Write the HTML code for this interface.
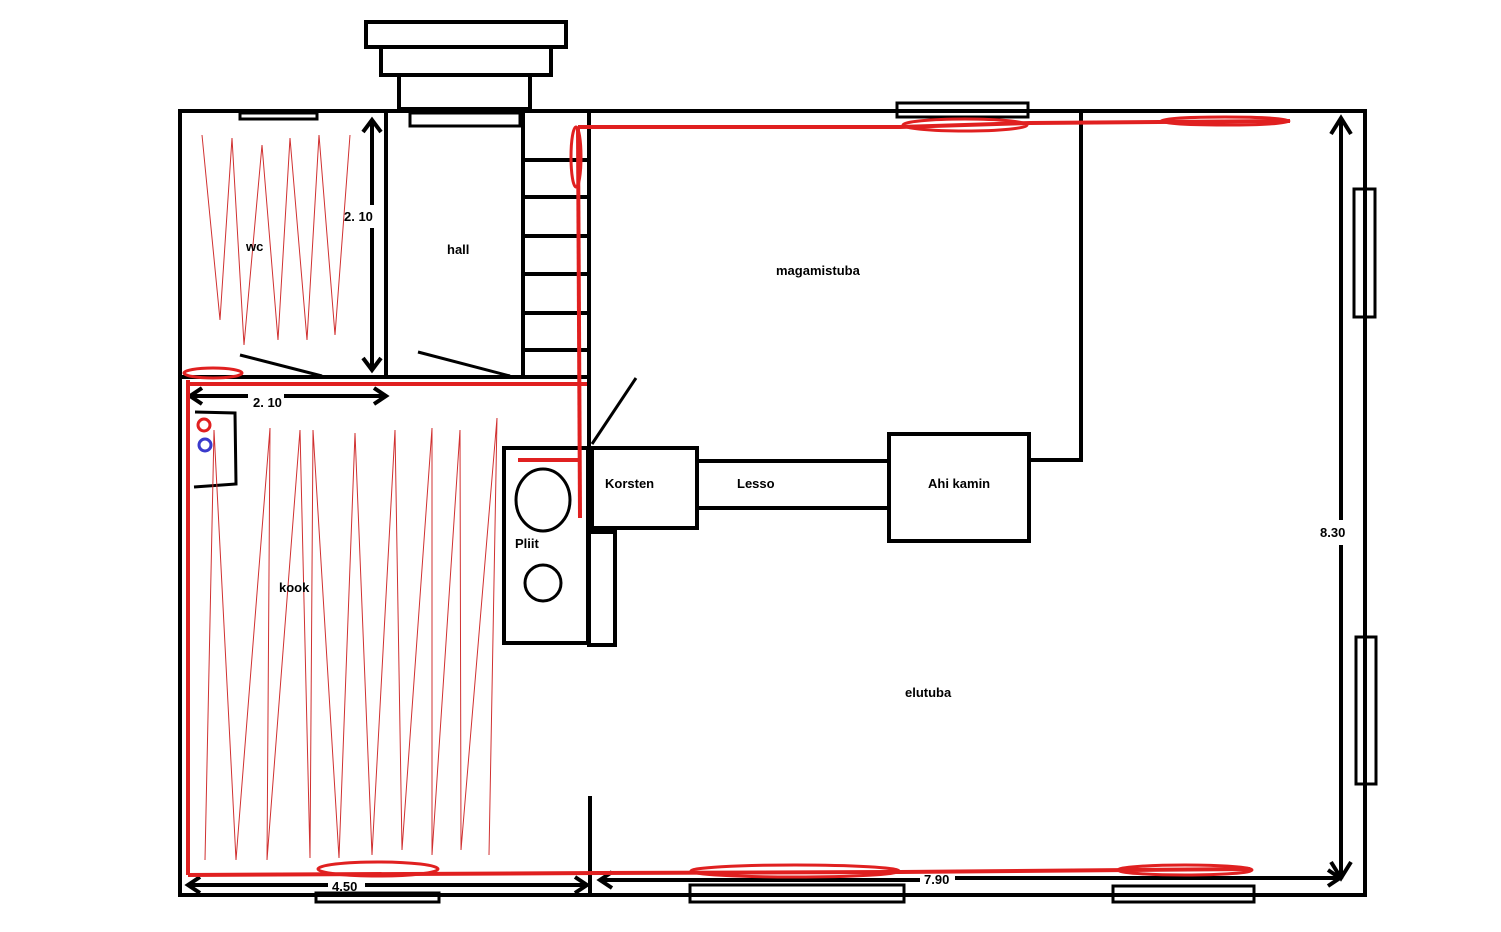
<!DOCTYPE html>
<html><head><meta charset="utf-8"><style>
html,body{margin:0;padding:0;background:#fff;}
svg{display:block}
text{font-family:"Liberation Sans",sans-serif;font-weight:bold;font-size:13px;fill:#000}
</style></head><body>
<svg width="1501" height="932" viewBox="0 0 1501 932" xmlns="http://www.w3.org/2000/svg">
<g fill="none" stroke="#000" stroke-width="4">
<!-- steps -->
<rect x="366" y="22" width="200" height="25"/>
<rect x="381" y="47" width="170" height="28"/>
<rect x="399" y="75" width="131" height="34"/>
<!-- outer -->
<rect x="180" y="111" width="1185" height="784"/>
<!-- top windows -->
<rect x="240" y="113" width="77" height="6" stroke-width="3"/>
<rect x="410" y="113" width="110" height="13" stroke-width="3"/>
<rect x="897" y="103" width="131" height="14" stroke-width="3"/>
<!-- right windows -->
<rect x="1354" y="189" width="21" height="128" stroke-width="3"/>
<rect x="1356" y="637" width="20" height="147" stroke-width="3"/>
<!-- bottom windows -->
<rect x="316" y="893" width="123" height="9" stroke-width="3"/>
<rect x="690" y="885" width="214" height="17" stroke-width="3"/>
<rect x="1113" y="886" width="141" height="16" stroke-width="3"/>
<!-- interior walls -->
<line x1="386" y1="113" x2="386" y2="377"/>
<line x1="523" y1="113" x2="523" y2="377"/>
<line x1="589" y1="111" x2="589" y2="645"/>
<line x1="180" y1="377" x2="591" y2="377"/>
<line x1="590" y1="796" x2="590" y2="896"/>
<!-- stairs -->
<line x1="523" y1="160" x2="589" y2="160"/>
<line x1="523" y1="197" x2="589" y2="197"/>
<line x1="523" y1="236" x2="589" y2="236"/>
<line x1="523" y1="274" x2="589" y2="274"/>
<line x1="523" y1="313" x2="589" y2="313"/>
<line x1="523" y1="350" x2="589" y2="350"/>
<!-- doors -->
<line x1="240" y1="355" x2="322" y2="376" stroke-width="3"/>
<line x1="418" y1="352" x2="510" y2="376" stroke-width="3"/>
<line x1="592" y1="444" x2="636" y2="378" stroke-width="3"/>
<!-- dim 2.10 vertical -->
<line x1="372" y1="120" x2="372" y2="205"/>
<line x1="372" y1="228" x2="372" y2="370"/>
<polyline points="363,132 372,120 381,132"/>
<polyline points="363,358 372,370 381,358"/>
<!-- dim 2.10 horizontal -->
<line x1="190" y1="396" x2="248" y2="396"/>
<line x1="284" y1="396" x2="386" y2="396"/>
<polyline points="202,388 190,396 202,404"/>
<polyline points="374,388 386,396 374,404"/>
<!-- small box -->
<polyline points="195,412 235,413 236,484 194,487" stroke-width="3"/>
<!-- stove -->
<rect x="504" y="448" width="84" height="195"/>
<ellipse cx="543" cy="500" rx="27" ry="31" stroke-width="3"/>
<circle cx="543" cy="583" r="18" stroke-width="3"/>
<rect x="589" y="532" width="26" height="113"/>
<!-- korsten etc -->
<rect x="592" y="448" width="105" height="80"/>
<line x1="697" y1="461" x2="889" y2="461"/>
<line x1="697" y1="508" x2="889" y2="508"/>
<rect x="889" y="434" width="140" height="107"/>
<line x1="1029" y1="460" x2="1083" y2="460"/>
<line x1="1081" y1="113" x2="1081" y2="462"/>
<!-- 8.30 -->
<line x1="1341" y1="118" x2="1341" y2="520"/>
<line x1="1341" y1="545" x2="1341" y2="878"/>
<polyline points="1331,134 1341,118 1351,134"/>
<polyline points="1331,862 1341,878 1351,862"/>
<!-- 4.50 -->
<line x1="188" y1="885" x2="328" y2="885"/>
<line x1="365" y1="885" x2="587" y2="885"/>
<polyline points="200,877 188,885 200,893"/>
<polyline points="575,877 587,885 575,893"/>
<!-- 7.90 -->
<line x1="600" y1="880" x2="920" y2="880"/>
<line x1="955" y1="878" x2="1340" y2="878"/>
<polyline points="612,872 600,880 612,888"/>
<polyline points="1328,870 1340,878 1328,886"/>
</g>
<!-- red -->
<g fill="none" stroke="#e02020" stroke-width="4">
<line x1="186" y1="384" x2="587" y2="384"/>
<line x1="188" y1="380" x2="188" y2="875"/>
<line x1="578" y1="128" x2="580" y2="518"/>
<line x1="518" y1="460" x2="580" y2="460"/>
<ellipse cx="576" cy="157" rx="5" ry="30" stroke-width="3"/>
<polyline points="578,127 900,127 1030,123 1290,121"/>
<ellipse cx="965" cy="125" rx="62" ry="6" stroke-width="3"/>
<ellipse cx="1225" cy="121" rx="64" ry="4" stroke-width="3"/>
<ellipse cx="213" cy="373" rx="29" ry="5" stroke-width="3"/>
<polyline points="188,875 600,873 900,872 1250,869"/>
<ellipse cx="378" cy="869" rx="60" ry="7" stroke-width="3"/>
<ellipse cx="795" cy="871" rx="104" ry="6" stroke-width="3"/>
<ellipse cx="1185" cy="870" rx="67" ry="5" stroke-width="3"/>
<circle cx="204" cy="425" r="6" stroke-width="3"/>
</g>
<circle cx="205" cy="445" r="6" fill="none" stroke="#3a3acc" stroke-width="3"/>
<!-- zigzags -->
<g fill="none" stroke="#d03030" stroke-width="1">
<polyline points="202,135 220,320 232,138 244,345 262,145 278,340 290,138 307,340 319,135 335,335 350,135"/>
<polyline points="205,860 214,430 236,860 270,428 267,860 300,430 310,858 313,430 339,858 355,433 372,855 395,430 402,850 432,428 432,855 460,430 461,850 497,418 489,855"/>
</g>
<text x="246" y="251">wc</text>
<text x="447" y="254">hall</text>
<text x="344" y="221" font-size="12">2. 10</text>
<text x="253" y="407" font-size="12">2. 10</text>
<text x="776" y="275">magamistuba</text>
<text x="279" y="592">kook</text>
<text x="515" y="548">Pliit</text>
<text x="605" y="488">Korsten</text>
<text x="737" y="488">Lesso</text>
<text x="928" y="488">Ahi kamin</text>
<text x="905" y="697">elutuba</text>
<text x="1320" y="537" font-size="12">8.30</text>
<text x="332" y="891" font-size="12">4.50</text>
<text x="924" y="884" font-size="12">7.90</text>
</svg>
</body></html>
